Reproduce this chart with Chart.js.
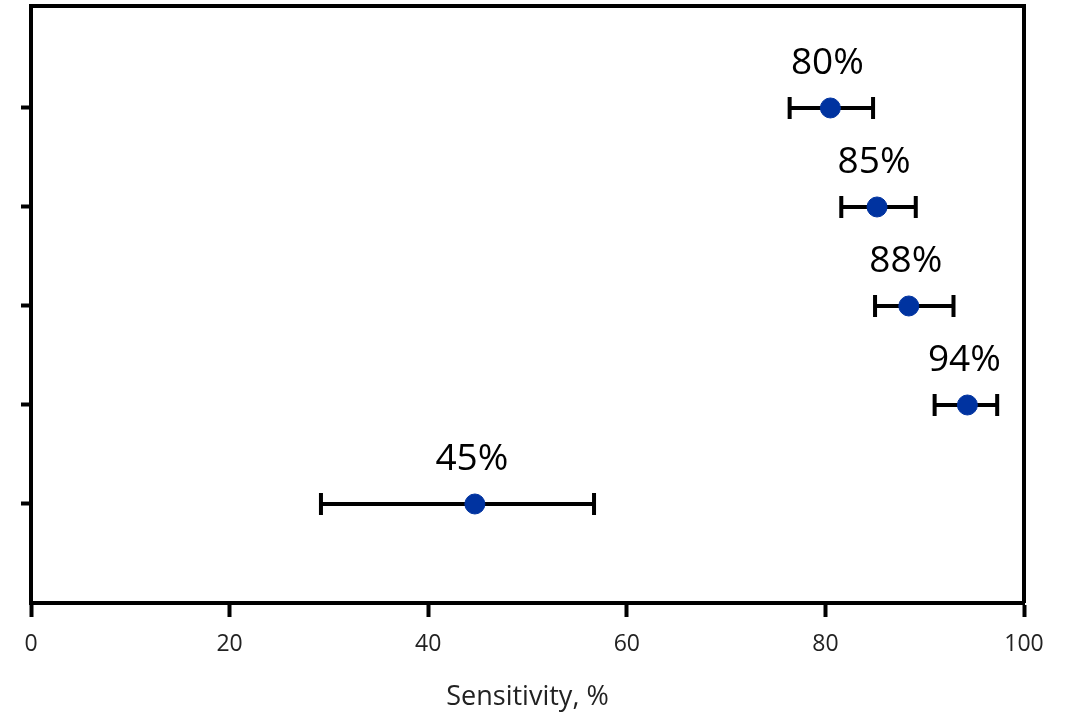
<!DOCTYPE html>
<html lang="en">
<head>
  <meta charset="UTF-8">
  <title>Sensitivity</title>
  <script src="https://cdn.jsdelivr.net/npm/chart.js"></script>
  <style>
    html, body {
      margin: 0;
      padding: 0;
      background: #fff;
    }
    .chart-box {
      width: 1069px;
      height: 714px;
    }
  </style>
</head>
<body>
<div class="chart-box">
  <canvas id="sensChart"></canvas>
</div>

<script>
  // rows from top to bottom (y position on the scale)
  const rowPos = [5, 4, 3, 2, 1];
  const estimates = [80.5, 85.2, 88.4, 94.3, 44.7];
  const lower = [76.4, 81.6, 85.0, 91.0, 29.2];
  const upper = [84.8, 89.1, 92.9, 97.3, 56.7];
  const valueLabels = ['80%', '85%', '88%', '94%', '45%'];
  const xTicks = [0, 20, 40, 60, 80, 100];

  // error bars + value labels + frame
  const errorBars = {
    id: 'errorBars',
    beforeDatasetsDraw(chart) {
      const { ctx, scales: { x, y } } = chart;
      ctx.save();
      ctx.strokeStyle = '#000';
      ctx.lineWidth = 4;
      rowPos.forEach((r, i) => {
        const py = y.getPixelForValue(r);
        const x1 = x.getPixelForValue(lower[i]);
        const x2 = x.getPixelForValue(upper[i]);
        ctx.beginPath();
        ctx.moveTo(x1, py);
        ctx.lineTo(x2, py);
        ctx.moveTo(x1, py - 11);
        ctx.lineTo(x1, py + 11);
        ctx.moveTo(x2, py - 11);
        ctx.lineTo(x2, py + 11);
        ctx.stroke();
      });
      ctx.restore();
    },
    afterDraw(chart) {
      const { ctx, chartArea, scales: { x, y } } = chart;
      ctx.save();
      ctx.fillStyle = '#000';
      ctx.font = '37px "Open Sans"';
      ctx.textAlign = 'center';
      ctx.textBaseline = 'alphabetic';
      rowPos.forEach((r, i) => {
        ctx.fillText(valueLabels[i], x.getPixelForValue(estimates[i]) - 3, y.getPixelForValue(r) - 34);
      });
      // top and right frame lines
      ctx.strokeStyle = '#000';
      ctx.lineWidth = 4;
      ctx.beginPath();
      ctx.moveTo(chartArea.left - 2, chartArea.top);
      ctx.lineTo(chartArea.right, chartArea.top);
      ctx.lineTo(chartArea.right, chartArea.bottom);
      ctx.stroke();
      ctx.restore();
    }
  };

  new Chart(document.getElementById('sensChart'), {
    type: 'scatter',
    data: {
      datasets: [{
        label: 'Sensitivity',
        data: estimates.map((v, i) => ({ x: v, y: rowPos[i] })),
        backgroundColor: '#0033a0',
        borderColor: '#0033a0',
        pointRadius: 10,
        pointHoverRadius: 10
      }]
    },
    options: {
      responsive: true,
      maintainAspectRatio: false,
      animation: false,
      layout: {
        autoPadding: false,
        padding: { top: 6, right: 45, left: 0, bottom: 0 }
      },
      plugins: {
        legend: { display: false },
        tooltip: { enabled: false }
      },
      scales: {
        x: {
          type: 'linear',
          min: 0,
          max: 100,
          afterBuildTicks: scale => {
            scale.ticks = xTicks.map(v => ({ value: v }));
          },
          afterFit: scale => {
            scale.height = 111;
          },
          grid: {
            drawOnChartArea: false,
            drawTicks: true,
            tickLength: 14,
            tickWidth: 4,
            tickColor: '#000'
          },
          border: { color: '#000', width: 4 },
          ticks: {
            color: '#222',
            padding: 14,
            font: { family: '"Open Sans"', size: 23 }
          },
          title: {
            display: true,
            text: 'Sensitivity, %',
            color: '#222',
            font: { family: '"Open Sans"', size: 27 },
            padding: { top: 0, bottom: 0 }
          }
        },
        y: {
          type: 'linear',
          min: 0,
          max: 6.03,
          afterBuildTicks: scale => {
            scale.ticks = rowPos.map(v => ({ value: v }));
          },
          afterFit: scale => {
            scale.width = 31;
          },
          grid: {
            drawOnChartArea: false,
            drawTicks: true,
            tickLength: 10,
            tickWidth: 4,
            tickColor: '#000'
          },
          border: { color: '#000', width: 4 },
          ticks: { display: false }
        }
      }
    },
    plugins: [errorBars]
  });
</script>
</body>
</html>
